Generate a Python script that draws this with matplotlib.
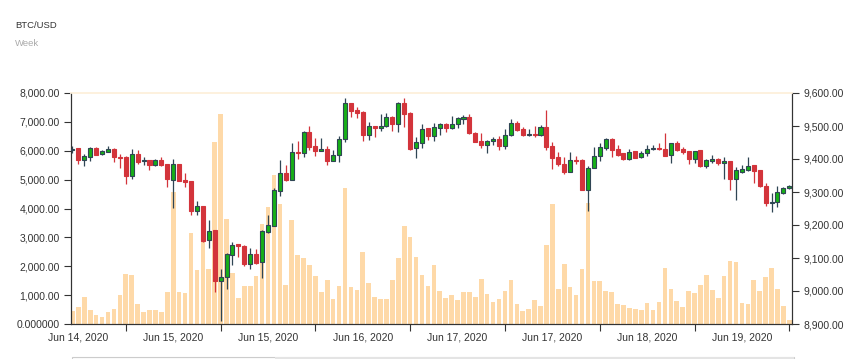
import numpy as np
import matplotlib
matplotlib.use("Agg")
import matplotlib.pyplot as plt
from matplotlib.patches import Rectangle

plt.rcParams['font.family'] = ['Liberation Sans', 'DejaVu Sans']

# hourly candles
opens = [9428, 9432, 9398, 9407, 9434, 9414, 9422, 9429, 9407, 9405,
         9347, 9415, 9394, 9396, 9383, 9397, 9384, 9337, 9386, 9335,
         9332, 9241, 9258, 9154, 9185, 9031, 9041, 9109, 9142, 9137,
         9083, 9111, 9087, 9178, 9198, 9302, 9359, 9337, 9421, 9418,
         9483, 9438, 9425, 9431, 9394, 9412, 9460, 9569, 9547, 9542,
         9472, 9501, 9493, 9500, 9528, 9507, 9570, 9539, 9433, 9449,
         9493, 9469, 9495, 9506, 9493, 9506, 9522, 9528, 9480, 9455,
         9441, 9454, 9461, 9439, 9472, 9509, 9490, 9472, 9477, 9472,
         9498, 9438, 9405, 9386, 9361, 9398, 9398, 9305, 9373, 9408,
         9433, 9460, 9431, 9417, 9400, 9423, 9405, 9417, 9429, 9433,
         9430, 9411, 9447, 9430, 9423, 9400, 9426, 9379, 9395, 9400,
         9389, 9395, 9339, 9362, 9368, 9381, 9366, 9318, 9267, 9269,
         9298, 9311]
closes = [9429, 9398, 9409, 9433, 9412, 9424, 9429, 9405, 9404, 9347,
          9415, 9390, 9397, 9383, 9396, 9381, 9339, 9386, 9334, 9331,
          9241, 9258, 9153, 9183, 9031, 9041, 9111, 9140, 9136, 9083,
          9111, 9086, 9181, 9200, 9305, 9358, 9337, 9420, 9417, 9483,
          9436, 9424, 9430, 9393, 9412, 9461, 9569, 9545, 9539, 9472,
          9501, 9493, 9501, 9528, 9506, 9570, 9535, 9431, 9451, 9492,
          9470, 9497, 9506, 9493, 9507, 9523, 9527, 9478, 9453, 9441,
          9455, 9461, 9439, 9473, 9508, 9489, 9472, 9476, 9472, 9497,
          9436, 9403, 9385, 9362, 9397, 9395, 9305, 9373, 9409, 9435,
          9460, 9428, 9413, 9399, 9422, 9404, 9418, 9429, 9432, 9429,
          9410, 9447, 9427, 9421, 9400, 9425, 9378, 9397, 9400, 9389,
          9395, 9339, 9366, 9371, 9380, 9363, 9317, 9267, 9270, 9300,
          9313, 9317]
highs = [9439, 9434, 9415, 9437, 9435, 9426, 9438, 9434, 9415, 9409,
         9431, 9426, 9407, 9398, 9400, 9406, 9386, 9399, 9386, 9358,
         9334, 9273, 9258, 9216, 9185, 9066, 9116, 9148, 9142, 9140,
         9129, 9126, 9185, 9231, 9312, 9398, 9383, 9448, 9454, 9486,
         9499, 9464, 9464, 9438, 9428, 9469, 9584, 9571, 9558, 9544,
         9511, 9501, 9536, 9539, 9530, 9573, 9584, 9541, 9468, 9506,
         9493, 9508, 9509, 9508, 9530, 9526, 9534, 9535, 9483, 9479,
         9459, 9467, 9471, 9492, 9522, 9514, 9498, 9490, 9500, 9502,
         9549, 9452, 9422, 9406, 9422, 9410, 9400, 9380, 9437, 9447,
         9464, 9463, 9441, 9418, 9431, 9425, 9423, 9442, 9443, 9448,
         9479, 9447, 9455, 9437, 9423, 9425, 9428, 9400, 9412, 9402,
         9406, 9395, 9376, 9382, 9406, 9383, 9368, 9326, 9297, 9318,
         9315, 9322]
lows = [9418, 9384, 9380, 9393, 9411, 9412, 9421, 9391, 9374, 9323,
        9339, 9386, 9381, 9368, 9380, 9380, 9315, 9251, 9332, 9314,
        9229, 9229, 9147, 9129, 8996, 8909, 9006, 9079, 9104, 9075,
        9066, 9082, 9038, 9175, 9197, 9287, 9332, 9335, 9400, 9405,
        9426, 9409, 9424, 9383, 9393, 9391, 9452, 9527, 9525, 9454,
        9459, 9467, 9484, 9498, 9486, 9481, 9498, 9426, 9402, 9433,
        9457, 9455, 9474, 9482, 9492, 9493, 9506, 9477, 9452, 9432,
        9418, 9443, 9428, 9430, 9469, 9485, 9470, 9471, 9466, 9471,
        9428, 9371, 9380, 9354, 9360, 9386, 9305, 9243, 9372, 9395,
        9426, 9407, 9408, 9396, 9398, 9404, 9404, 9410, 9426, 9428,
        9408, 9388, 9423, 9414, 9385, 9387, 9377, 9372, 9389, 9382,
        9338, 9306, 9275, 9358, 9363, 9328, 9316, 9257, 9239, 9256,
        9294, 9310]
volumes = [463, 602, 950, 498, 324, 232, 405, 533, 1019, 1737,
           1714, 706, 417, 498, 498, 405, 1123, 4586, 1112, 1077,
           3138, 1853, 3300, 1922, 6288, 7272, 3625, 1749, 915, 1309,
           1332, 1656, 3451, 4053, 5153, 4169, 1366, 3590, 2397, 2293,
           2027, 1656, 1112, 1540, 880, 1320, 4701, 1297, 1181, 2501,
           1436, 950, 880, 880, 1540, 2270, 3381, 2999, 2304, 1714,
           1332, 2027, 1146, 915, 1007, 834, 1100, 1123, 950, 1575,
           1054, 753, 880, 1158, 1529, 706, 440, 533, 834, 625,
           2721, 4169, 1204, 2061, 1297, 1019, 1888, 4180, 1482, 1505,
           1146, 1100, 706, 660, 556, 533, 498, 730, 498, 764,
           1945, 1227, 799, 602, 1158, 1065, 1366, 1714, 1181, 915,
           1679, 2189, 2142, 730, 706, 1529, 1146, 1633, 1945, 1216,
           614, 127]

date_labels = ['Jun 14, 2020', 'Jun 15, 2020', 'Jun 15, 2020', 'Jun 16, 2020',
               'Jun 17, 2020', 'Jun 17, 2020', 'Jun 18, 2020', 'Jun 19, 2020']
vol_ticks = [0, 1000, 2000, 3000, 4000, 5000, 6000, 7000, 8000]
vol_labels = ['0.000000', '1,000.00', '2,000.00', '3,000.00', '4,000.00',
              '5,000.00', '6,000.00', '7,000.00', '8,000.00']
price_ticks = [8900, 9000, 9100, 9200, 9300, 9400, 9500, 9600]

UP = '#17b017'
UP_EDGE = '#2f4554'
DOWN = '#d3343b'
VOL = '#fed9a8'
TXT = '#333333'


def main():
    n = len(opens)
    x = np.arange(n)
    o = np.array(opens)
    c = np.array(closes)
    up = c >= o

    fig = plt.figure(figsize=(8.59, 3.59), dpi=100)
    ax = fig.add_axes([71 / 859, 35 / 359, 721 / 859, 231 / 359])
    ax2 = ax.twinx()

    # volume on the left axis
    ax.bar(x, volumes, width=0.78, color=VOL, edgecolor='none', zorder=1)
    ax.set_ylim(0, 8000)
    ax.set_xlim(-0.25, n - 0.55)

    # candles on the right axis
    body_lo = np.minimum(o, c)
    body_h = np.maximum(np.abs(c - o), 0.8)
    wick_col = [UP_EDGE if u else DOWN for u in up]
    ax2.vlines(x, lows, highs, colors=wick_col, linewidth=0.9, zorder=2)
    ax2.bar(x[up], body_h[up], bottom=body_lo[up], width=0.68,
            color=UP, edgecolor=UP_EDGE, linewidth=0.8, zorder=3)
    ax2.bar(x[~up], body_h[~up], bottom=body_lo[~up], width=0.68,
            color=DOWN, edgecolor=DOWN, linewidth=0.8, zorder=3)
    ax2.set_ylim(8900, 9600)

    for a in (ax, ax2):
        a.spines['top'].set_color('#fdf1de')
        a.spines['top'].set_linewidth(1.2)
        a.spines['left'].set_color(TXT)
        a.spines['right'].set_color(TXT)
        a.spines['bottom'].set_color(TXT)

    ax.set_yticks(vol_ticks)
    ax.set_yticklabels(vol_labels)
    ax.tick_params(axis='y', length=5, width=0.8, color=TXT, labelsize=7.5,
                   labelcolor=TXT, pad=3)

    ax2.set_yticks(price_ticks)
    ax2.set_yticklabels([f'{v:,.2f}' for v in price_ticks])
    ax2.tick_params(axis='y', length=5, width=0.8, color=TXT, labelsize=7.5,
                    labelcolor=TXT, pad=3)

    # ticks between the labels, labels on their own (minor) positions
    ax.set_xticks(np.arange(9, n, 16))
    ax.set_xticklabels([])
    ax.tick_params(axis='x', which='major', length=5, width=0.8, color=TXT)
    ax.set_xticks(np.arange(1, n, 16), minor=True)
    ax.set_xticklabels(date_labels, minor=True)
    ax.tick_params(axis='x', which='minor', length=0, labelsize=7.5,
                   labelcolor=TXT, pad=6)

    fig.text(15 / 859, 1 - 25 / 359, 'BTC/USD', fontsize=6.8, color=TXT, va='center')
    fig.text(15 / 859, 1 - 44 / 359, 'Week', fontsize=6.8, color='#aaaaaa', va='center')

    # data-zoom slider peeking in at the bottom edge
    fig.patches.append(Rectangle((72 / 859, 0), 722 / 859, 2 / 359,
                                 transform=fig.transFigure, facecolor='white',
                                 edgecolor='#cccccc', linewidth=0.8))
    fig.patches.append(Rectangle((275 / 859, 0), 519 / 859, 2 / 359,
                                 transform=fig.transFigure, facecolor='#e4e4e4',
                                 edgecolor='none'))

    fig.savefig('out.png', dpi=100)


if __name__ == "__main__":
    main()
